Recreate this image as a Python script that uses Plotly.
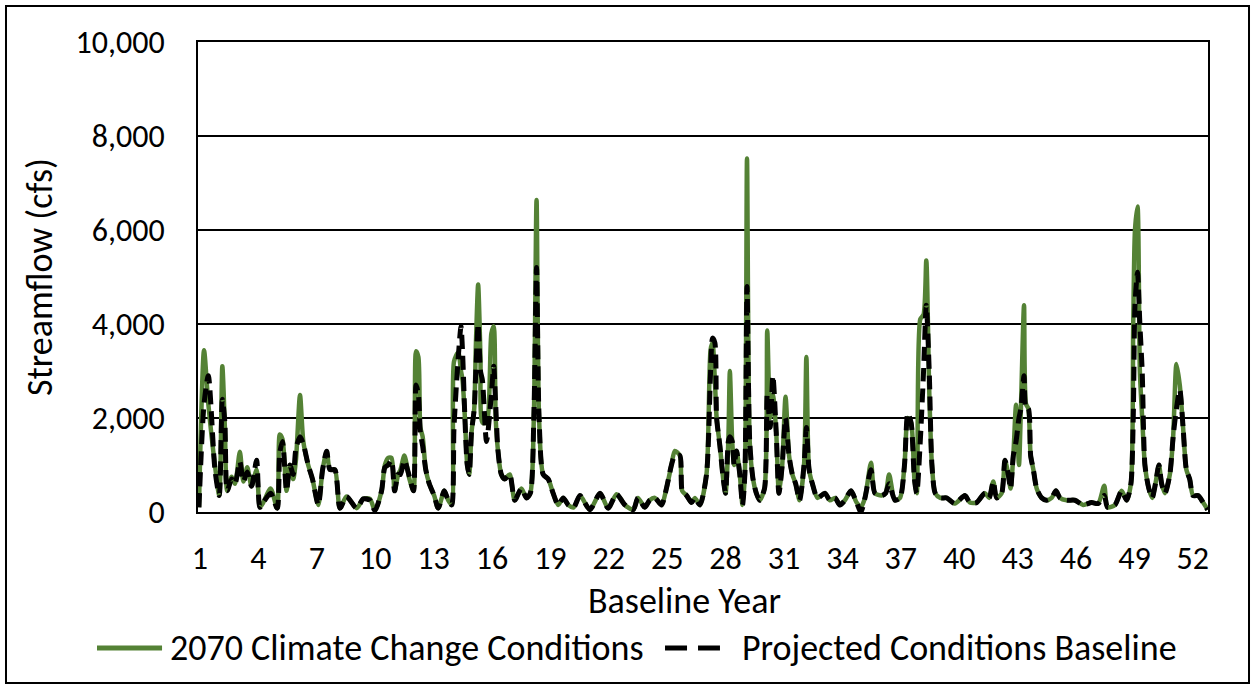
import plotly.graph_objects as go

# Baseline year position (decimal years) and streamflow (cfs) for each scenario
years = [
    0.95, 1.21, 1.43, 1.77, 1.99, 2.15, 2.28, 2.40, 2.63, 2.80,
    3.05, 3.23, 3.43, 3.65, 3.91, 4.08, 4.25, 4.63, 4.97, 5.10,
    5.24, 5.45, 5.62, 5.79, 5.93, 6.14, 6.31, 6.56, 6.78, 7.08,
    7.30, 7.51, 7.68, 7.93, 8.19, 8.53, 9.05, 9.39, 9.73, 9.99,
    10.33, 10.50, 10.67, 10.84, 11.00, 11.18, 11.30, 11.50, 11.76, 11.97,
    12.10, 12.22, 12.32, 12.44, 12.60, 12.78, 13.03, 13.24, 13.55, 13.75,
    13.93, 14.05, 14.27, 14.41, 14.49, 14.61, 14.73, 14.83, 14.95, 15.09,
    15.17, 15.29, 15.41, 15.51, 15.72, 15.97, 16.09, 16.19, 16.31, 16.48,
    16.65, 16.91, 17.17, 17.51, 17.77, 17.97, 18.15, 18.29, 18.42, 18.63,
    18.89, 19.14, 19.40, 19.66, 19.92, 20.20, 20.52, 21.03, 21.55, 21.97,
    22.40, 22.83, 23.26, 23.50, 23.85, 24.10, 24.37, 24.71, 24.96, 25.22,
    25.39, 25.65, 25.77, 26.00, 26.25, 26.42, 26.68, 27.02, 27.23, 27.33,
    27.45, 27.54, 27.71, 27.88, 28.00, 28.14, 28.22, 28.34, 28.44, 28.56,
    28.73, 28.87, 28.99, 29.10, 29.24, 29.41, 29.58, 29.75, 30.00, 30.14,
    30.29, 30.43, 30.60, 30.74, 30.91, 31.08, 31.26, 31.43, 31.60, 31.80,
    32.03, 32.15, 32.29, 32.46, 32.72, 33.10, 33.36, 33.62, 33.87, 34.13,
    34.44, 34.73, 34.95, 35.16, 35.47, 35.67, 36.01, 36.22, 36.40, 36.70,
    36.96, 37.19, 37.36, 37.53, 37.70, 37.82, 38.00, 38.17, 38.31, 38.46,
    38.60, 38.77, 39.03, 39.35, 39.78, 40.29, 40.55, 40.89, 41.32, 41.54,
    41.75, 41.92, 42.18, 42.35, 42.52, 42.64, 42.78, 42.92, 43.07, 43.17,
    43.33, 43.43, 43.55, 43.67, 43.81, 43.98, 44.24, 44.49, 44.75, 44.97,
    45.18, 45.52, 45.94, 46.37, 46.80, 47.14, 47.45, 47.62, 48.00, 48.34,
    48.60, 48.82, 48.94, 49.03, 49.16, 49.28, 49.40, 49.54, 49.74, 49.91,
    50.08, 50.26, 50.40, 50.57, 50.82, 50.99, 51.16, 51.33, 51.50, 51.67,
    51.84, 52.01, 52.27, 52.53, 52.76,
]

climate_2070 = [
    100, 3440, 2300, 1000, 350, 3100, 1800, 450, 750, 600,
    1280, 650, 950, 550, 900, 100, 200, 500, 80, 1650,
    1550, 450, 1000, 700, 1100, 2490, 1500, 1000, 700, 150,
    900, 1290, 900, 900, 80, 330, 80, 280, 280, 30,
    450, 1000, 1150, 1150, 450, 800, 900, 1200, 700, 450,
    3420, 3300, 1800, 1600, 900, 600, 350, 80, 450, 250,
    150, 3200, 3400, 3000, 2800, 2000, 1000, 800, 1700, 2200,
    3500, 4840, 3300, 1900, 1900, 3800, 3950, 2000, 1300, 800,
    700, 800, 250, 500, 300, 400, 2000, 6640, 2000, 800,
    700, 400, 150, 300, 150, 100, 350, 50, 400, 80,
    380, 150, 50, 300, 100, 250, 300, 150, 500, 1000,
    1300, 1200, 450, 350, 200, 300, 150, 800, 3450, 3600,
    2800, 2000, 1400, 700, 400, 1500, 3000, 1500, 1000, 1300,
    800, 150, 800, 7520, 1500, 700, 400, 250, 500, 3860,
    2000, 2500, 1700, 400, 1000, 2450, 1200, 800, 600, 250,
    1000, 3300, 900, 600, 300, 400, 250, 300, 150, 250,
    450, 200, 100, 300, 1050, 400, 350, 400, 800, 250,
    300, 1000, 2000, 1900, 700, 400, 4100, 4200, 5350, 2600,
    1000, 400, 300, 300, 180, 350, 200, 200, 400, 300,
    650, 300, 400, 1100, 800, 500, 1200, 2280, 1000, 2200,
    4400, 2300, 2200, 1200, 900, 500, 300, 250, 300, 450,
    300, 250, 250, 150, 200, 180, 560, 100, 150, 450,
    250, 600, 4000, 6000, 6500, 3000, 2000, 1000, 500, 300,
    600, 1000, 600, 400, 800, 1600, 3150, 2700, 1800, 900,
    700, 350, 350, 200, 50,
]

projected_baseline = [
    100, 2300, 2900, 900, 350, 2400, 1900, 450, 700, 600,
    1070, 650, 850, 550, 1100, 100, 200, 400, 80, 1250,
    1500, 450, 1000, 800, 1350, 1600, 1450, 1000, 700, 150,
    900, 1290, 900, 900, 80, 330, 80, 280, 250, 30,
    450, 950, 1000, 1100, 450, 800, 800, 1100, 750, 450,
    2700, 2500, 1700, 1400, 900, 600, 350, 80, 450, 250,
    150, 1800, 3300, 3950, 3400, 2000, 1000, 800, 1700, 2200,
    3000, 4000, 3000, 2800, 1500, 2500, 3100, 2300, 1300, 800,
    700, 800, 250, 500, 300, 400, 2000, 5200, 2000, 800,
    700, 400, 150, 300, 150, 100, 350, 50, 400, 80,
    380, 150, 50, 300, 100, 250, 300, 150, 500, 1000,
    1200, 1200, 450, 350, 200, 300, 150, 800, 3000, 3700,
    3600, 2000, 1400, 700, 400, 1500, 1600, 1500, 1000, 1300,
    800, 150, 800, 4800, 1500, 700, 400, 250, 500, 2500,
    1800, 2900, 1700, 400, 1000, 2000, 1200, 800, 600, 250,
    1000, 1800, 900, 600, 300, 400, 250, 300, 150, 250,
    450, 200, 0, 300, 900, 400, 350, 400, 600, 250,
    300, 1000, 2100, 1900, 700, 400, 1500, 3000, 4400, 3000,
    1000, 400, 300, 300, 180, 350, 200, 200, 400, 300,
    650, 300, 400, 1100, 800, 500, 1200, 1500, 2000, 2200,
    2900, 2200, 2200, 1200, 900, 500, 300, 250, 300, 450,
    300, 250, 250, 150, 200, 180, 350, 100, 150, 450,
    250, 600, 2000, 4400, 5100, 4000, 3000, 1000, 500, 300,
    600, 1000, 600, 400, 800, 1600, 2200, 2600, 1800, 900,
    700, 350, 350, 200, 50,
]

year_ticks = list(range(1, 53, 3))

FONT = "Calibri, Carlito, Lato, sans-serif"
GREEN = "#548235"
TICK_SIZE = 32
TEXT_SIZE = 36
BLACK_DASH = "14px,7px"

series = [
    ("2070 Climate Change Conditions", climate_2070,
     dict(color=GREEN, width=4.5, dash="solid")),
    ("Projected Conditions Baseline", projected_baseline,
     dict(color="black", width=5, dash=BLACK_DASH)),
]

fig = go.Figure()
for name, values, style in series:
    fig.add_trace(go.Scatter(
        x=years, y=values, mode="lines", name=name, showlegend=False,
        line=dict(shape="spline", smoothing=0.7, **style),
    ))

# Legend row below the axis: line sample + label for each series
legend_y = -0.2894
legend_items = [
    # (sample start, sample end, label start) in paper units
    (-0.1000, -0.0356, -0.0297, "2070 Climate Change Conditions",
     dict(color=GREEN, width=5, dash="solid")),
    (0.4624, 0.5168, 0.5366, "Projected Conditions Baseline",
     dict(color="black", width=5, dash="22px,11px")),
]

shapes = [dict(
    type="rect", xref="paper", yref="paper",
    x0=-0.1901, x1=1.0406, y0=-0.3638, y1=1.0766,
    line=dict(color="black", width=2), fillcolor="rgba(0,0,0,0)", layer="below",
)]
annotations = [dict(
    text="Baseline Year", xref="paper", yref="paper",
    x=0.482, y=-0.189, xanchor="center", yanchor="middle", showarrow=False,
    font=dict(family=FONT, size=TEXT_SIZE, color="black"),
)]
for x0, x1, xt, label, lstyle in legend_items:
    shapes.append(dict(
        type="line", xref="paper", yref="paper",
        x0=x0, x1=x1, y0=legend_y, y1=legend_y, line=lstyle,
    ))
    annotations.append(dict(
        text=label, xref="paper", yref="paper",
        x=xt, y=legend_y, xanchor="left", yanchor="middle", showarrow=False,
        font=dict(family=FONT, size=TEXT_SIZE, color="black"),
    ))

fig.update_layout(
    width=1252, height=687, autosize=False,
    margin=dict(l=198, r=44, t=42, b=175, pad=0),
    paper_bgcolor="white", plot_bgcolor="white",
    font=dict(family=FONT, size=TICK_SIZE, color="black"),
    showlegend=False,
    xaxis=dict(
        range=[0.9, 52.78], tickmode="array", tickvals=year_ticks,
        showgrid=False, zeroline=False, ticks="",
        showline=True, linecolor="black", linewidth=2, mirror=True,
        tickfont=dict(family=FONT, size=TICK_SIZE, color="black"),
        ticklabelstandoff=17,
    ),
    yaxis=dict(
        range=[0, 10000], tickmode="linear", tick0=0, dtick=2000, tickformat=",",
        showgrid=True, gridcolor="black", gridwidth=2, zeroline=False, ticks="",
        showline=True, linecolor="black", linewidth=2, mirror=True,
        tickfont=dict(family=FONT, size=TICK_SIZE, color="black"),
        ticklabelstandoff=25,
        title=dict(text="Streamflow (cfs)", standoff=12,
                   font=dict(family=FONT, size=TEXT_SIZE, color="black")),
    ),
    annotations=annotations,
    shapes=shapes,
)

fig.write_html("out.html")
